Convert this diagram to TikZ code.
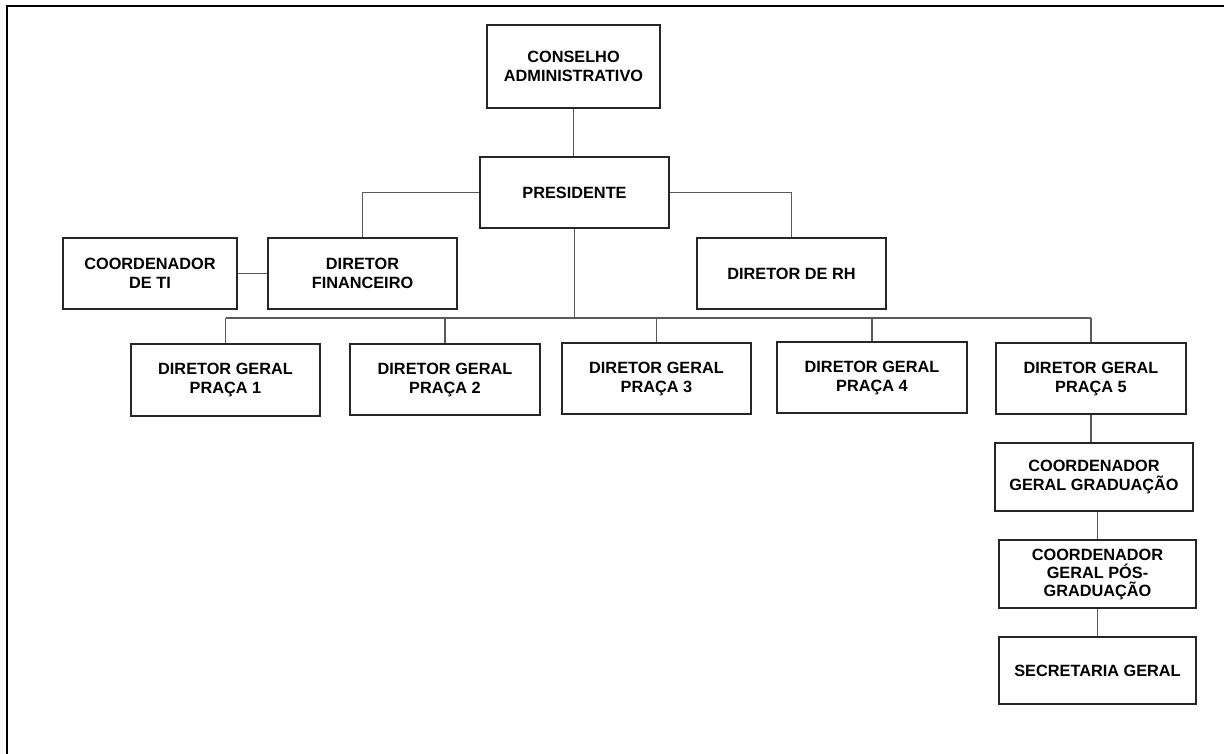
\documentclass[tikz,border=0pt]{standalone}
\usepackage{fontspec}
\setmainfont{Liberation Sans}
\begin{document}
\begin{tikzpicture}[x=1pt,y=-1pt,
  orgbox/.style={draw=black!85,line width=1.1pt,fill=white,align=center,inner sep=0pt,
    font=\fontsize{16.3}{19}\selectfont\bfseries},
  link/.style={draw=black!65,line width=1.1pt},
  frameline/.style={draw=black,line width=2.6pt}]
\useasboundingbox (0,0) rectangle (1224,754);
\coordinate (fa) at (7,754);
\coordinate (fb) at (7,6);
\coordinate (fc) at (1224,6);
\draw[frameline] (fa) -- (fb) -- (fc);
% boxes
\node[orgbox,minimum width=173pt,minimum height=83pt] (cons) at (573.5,66.5) {CONSELHO\\ADMINISTRATIVO};
\node[orgbox,minimum width=189pt,minimum height=71pt] (pres) at (574.5,192.5) {PRESIDENTE};
\node[orgbox,minimum width=174pt,minimum height=71pt] (ti) at (150,273.5) {COORDENADOR\\DE TI};
\node[orgbox,minimum width=189pt,minimum height=71pt] (fin) at (362.5,273.5) {DIRETOR\\FINANCEIRO};
\node[orgbox,minimum width=189pt,minimum height=71pt] (rh) at (791.5,273.5) {DIRETOR DE RH};
\node[orgbox,minimum width=189pt,minimum height=72pt] (p1) at (225.5,380) {DIRETOR GERAL\\PRAÇA 1};
\node[orgbox,minimum width=190pt,minimum height=71pt] (p2) at (445,379.5) {DIRETOR GERAL\\PRAÇA 2};
\node[orgbox,minimum width=189pt,minimum height=71pt] (p3) at (656.5,378.5) {DIRETOR GERAL\\PRAÇA 3};
\node[orgbox,minimum width=190pt,minimum height=71pt] (p4) at (872,377.5) {DIRETOR GERAL\\PRAÇA 4};
\node[orgbox,minimum width=190pt,minimum height=71pt] (p5) at (1091,378.5) {DIRETOR GERAL\\PRAÇA 5};
\node[orgbox,minimum width=198pt,minimum height=68pt] (grad) at (1094,477) {COORDENADOR\\GERAL GRADUAÇÃO};
\node[orgbox,minimum width=197pt,minimum height=68pt,font=\fontsize{16.3}{18}\selectfont\bfseries] (pos) at (1097.5,574) {COORDENADOR\\GERAL PÓS-\\GRADUAÇÃO};
\node[orgbox,minimum width=197pt,minimum height=67pt] (sec) at (1097.5,670.5) {SECRETARIA GERAL};
% connectors
\coordinate (bus) at (574.5,318);
\draw[link] (cons.south) -- (cons.south |- pres.north);
\draw[link] (pres.west) -| (fin.north);
\draw[link] (pres.east) -| (rh.north);
\draw[link] (ti.east) -- (fin.west);
\draw[link] (pres.south) -- (bus);
\draw[link] (p1.north |- bus) -- (p5.north |- bus);
\foreach \p in {p1,p2,p3,p4,p5} {\draw[link] (\p.north |- bus) -- (\p.north);}
\draw[link] (p5.south) -- (p5.south |- grad.north);
\draw[link] (pos.north |- grad.south) -- (pos.north);
\draw[link] (sec.north) -- (pos.south);
\end{tikzpicture}
\end{document}
